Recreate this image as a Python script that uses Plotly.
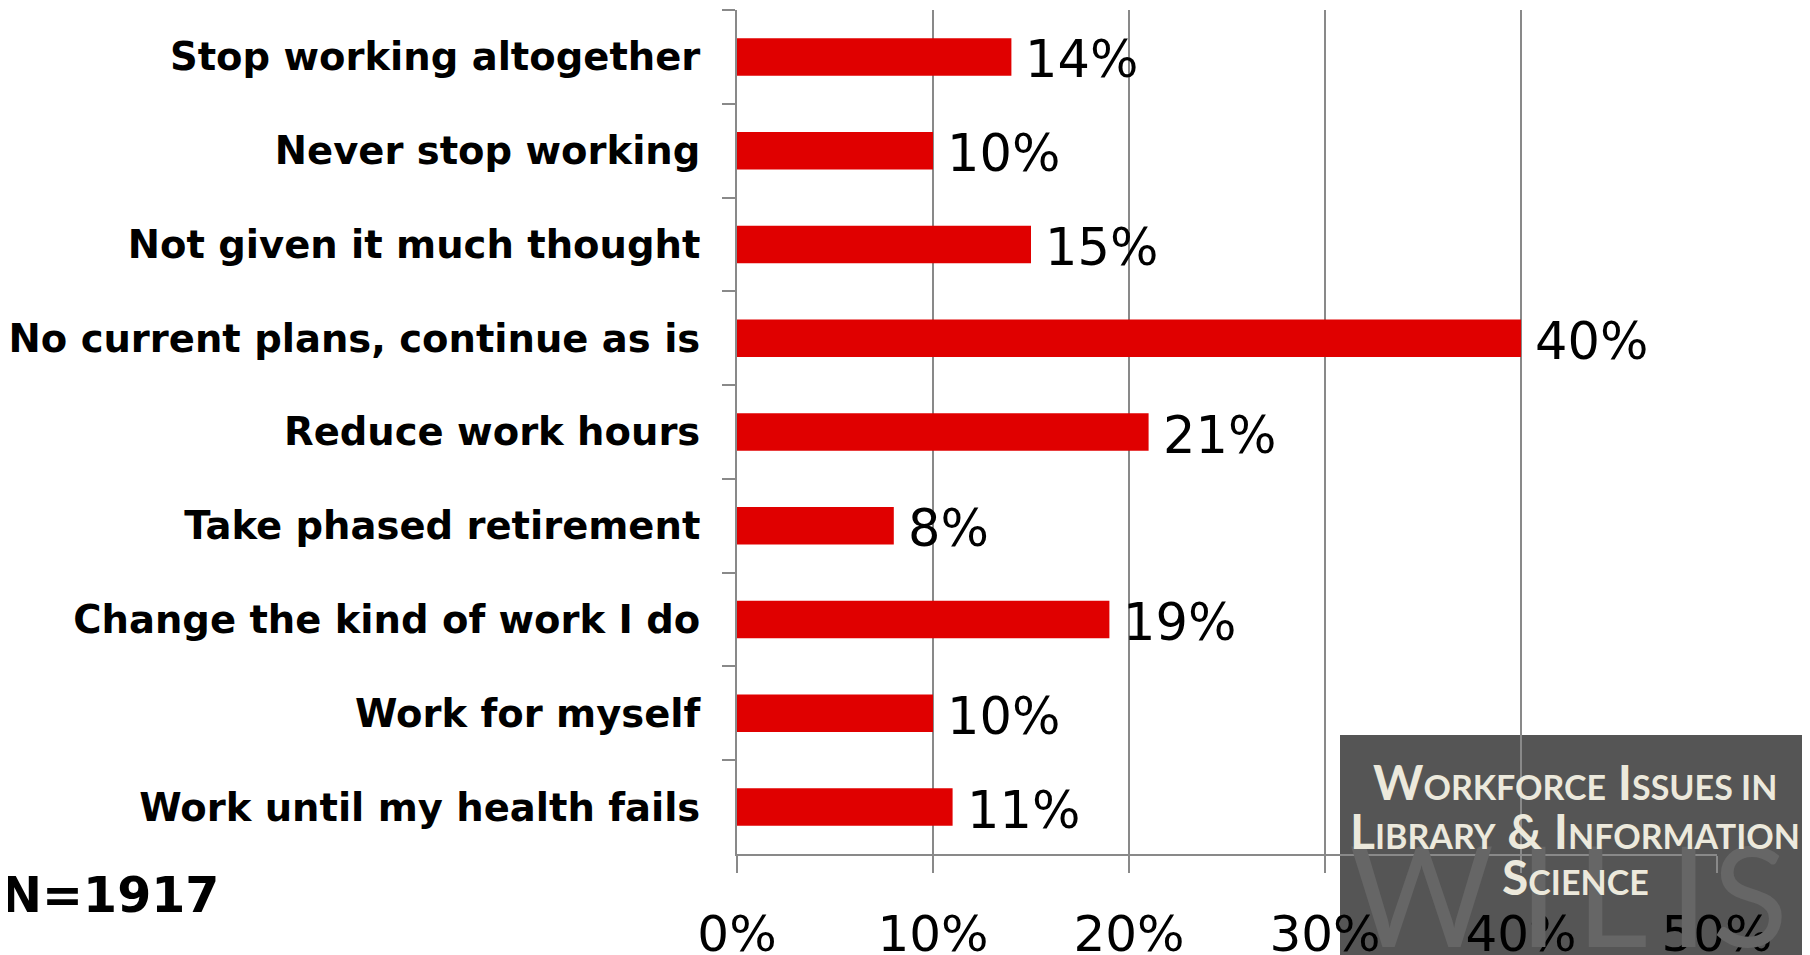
import plotly.graph_objects as go

categories = [
    "Stop working altogether",
    "Never stop working",
    "Not given it much thought",
    "No current plans, continue as is",
    "Reduce work hours",
    "Take phased retirement",
    "Change the kind of work I do",
    "Work for myself",
    "Work until my health fails",
]
values = [14, 10, 15, 40, 21, 8, 19, 10, 11]
x_ticks = [0, 10, 20, 30, 40, 50]
n_note = "N=1917"
watermark = ["W", "I", "L", "I", "S"]

# page body has an 8px margin, so the figure is shifted by that much
OFF = 8
W, H = 1810 - OFF, 955 - OFF
L, R, T, B = 737 - OFF, 93, 10 - OFF, 101
PW, PH = W - L - R, H - T - B

def px_x(s):
    return (s - OFF - L) / PW

def px_y(s):
    return (H - B - (s - OFF)) / PH

GRID = "#898989"
RED = "#e00000"

fig = go.Figure()
fig.add_trace(go.Bar(
    x=values, y=categories, orientation="h",
    marker=dict(color=RED, line=dict(width=0)),
    width=0.4, hoverinfo="skip",
))

for c, v in zip(categories, values):
    fig.add_annotation(
        x=v, y=c, text=f"{v}%", showarrow=False, xanchor="left",
        xshift=12, yshift=-3,
        font=dict(family="DejaVu Sans", size=51, color="black"),
    )

# logo box
fig.add_shape(type="rect", xref="paper", yref="paper", layer="below",
              x0=px_x(1340), x1=px_x(1810), y0=px_y(955), y1=px_y(735),
              fillcolor="#555555", line=dict(width=0))
for letter, xc in zip(watermark, [1421, 1538, 1612, 1688, 1750]):
    fig.add_annotation(
        xref="paper", yref="paper", x=px_x(xc), y=px_y(807),
        xanchor="center", yanchor="top", showarrow=False, text=letter,
        font=dict(family="Lato", size=140, color="#666666"),
    )
sc = "<span style='font-size:34px'>%s</span>"
logo_lines = [
    ("W" + sc % "ORKFORCE" + " I" + sc % "SSUES IN", 781),
    ("L" + sc % "IBRARY" + " &amp; I" + sc % "NFORMATION", 830),
    ("S" + sc % "CIENCE", 876),
]
for txt, yc in logo_lines:
    fig.add_annotation(
        xref="paper", yref="paper", x=px_x(1575), y=px_y(yc),
        xanchor="center", yanchor="middle", showarrow=False, text=txt,
        font=dict(family="Lato", size=48, color="#ece9dc", weight="bold"),
    )

fig.add_annotation(
    xref="paper", yref="paper", x=px_x(0), y=px_y(896), xshift=-1,
    xanchor="left", yanchor="middle", showarrow=False, text=n_note,
    font=dict(family="DejaVu Sans", size=49, color="black", weight="bold"),
)

fig.update_layout(
    width=W, height=H,
    margin=dict(l=L, r=R, t=T, b=B, pad=0),
    plot_bgcolor="white", paper_bgcolor="white",
    showlegend=False,
)
fig.update_xaxes(
    range=[0, 50], tickvals=x_ticks, ticktext=[f"{t}%" for t in x_ticks],
    showgrid=True, gridcolor=GRID, gridwidth=2, zeroline=False,
    showline=True, linecolor=GRID, linewidth=2, automargin=False,
    ticks="outside", ticklen=17, tickcolor=GRID, tickwidth=2,
    ticklabelstandoff=18,
    tickfont=dict(family="DejaVu Sans", size=50, color="black"),
)
fig.update_yaxes(
    autorange="reversed", tickson="boundaries", automargin=False,
    showgrid=False, zeroline=False,
    showline=True, linecolor=GRID, linewidth=2,
    ticks="outside", ticklen=13, tickcolor=GRID, tickwidth=2,
    ticklabelstandoff=27,
    tickfont=dict(family="DejaVu Sans", size=38.5, color="black", weight="bold"),
)

fig.write_html("out.html")
